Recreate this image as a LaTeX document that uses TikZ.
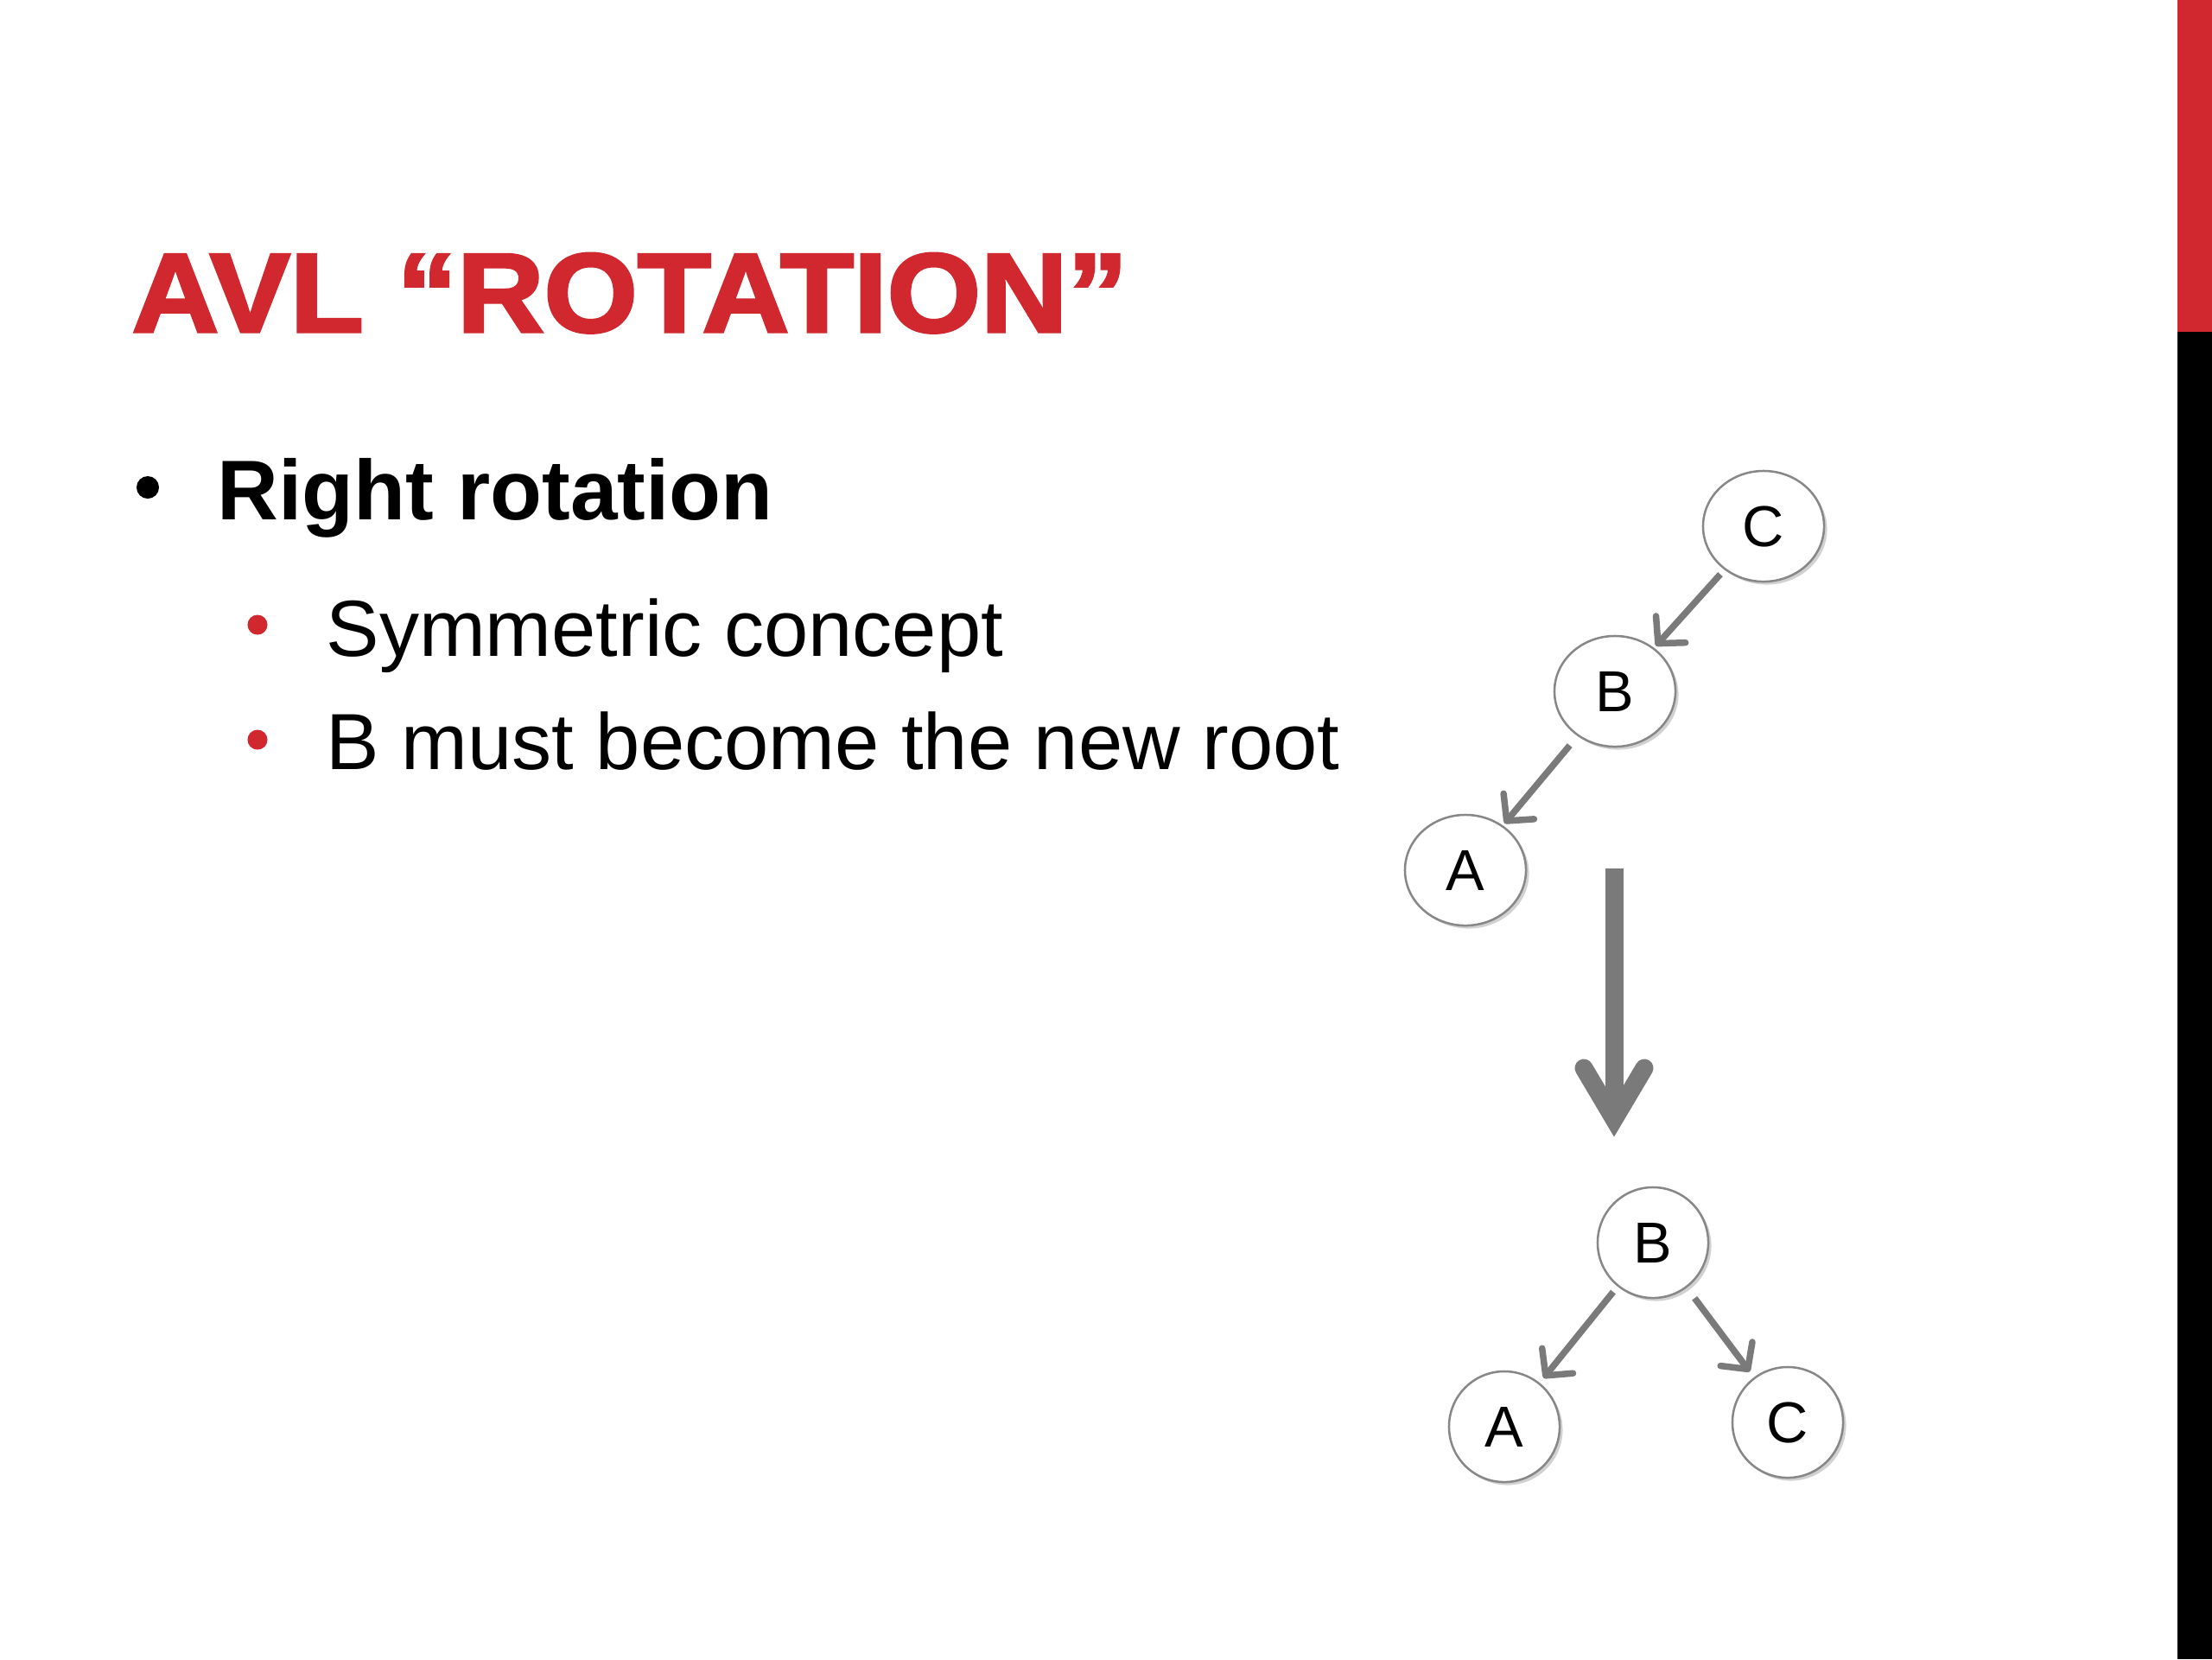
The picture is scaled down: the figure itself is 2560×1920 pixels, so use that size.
\documentclass[tikz,border=0pt]{standalone}
\usepackage{fontspec}
\setmainfont{Liberation Sans}
\newfontfamily\titlefont[BoldFeatures={FakeBold=2.5}]{Liberation Sans}
\usetikzlibrary{arrows.meta,shadows,shapes.geometric}
\definecolor{slidered}{RGB}{208,40,46}
\definecolor{arrowgray}{RGB}{122,122,122}
\definecolor{nodegray}{RGB}{135,135,135}
\begin{document}
\begin{tikzpicture}[x=0.01cm,y=-0.01cm,
  txt/.style={anchor=base west, inner sep=0pt, text=black},
  bulletdot/.style={circle, inner sep=0pt, minimum size=0.26cm},
  nodeshadow/.style={drop shadow={shadow xshift=0.035cm, shadow yshift=-0.035cm, opacity=0.18, fill=black}},
  ovalnode/.style={ellipse, draw=nodegray, line width=0.025cm, fill=white, inner sep=0pt,
    minimum width=1.40cm, minimum height=1.28cm, nodeshadow,
    font=\fontsize{19pt}{22pt}\selectfont},
  roundnode/.style={circle, draw=nodegray, line width=0.025cm, fill=white, inner sep=0pt,
    minimum size=1.28cm, nodeshadow, font=\fontsize{19pt}{22pt}\selectfont},
  treeedge/.style={draw=arrowgray, line width=0.075cm,
    -{Straight Barb[length=0.22cm,width=0.46cm,round]},
    shorten <=0.07cm, shorten >=0.03cm},
  bigarrow/.style={draw=arrowgray, line width=0.21cm}
]
\useasboundingbox (0,0) rectangle (2560,1920);
\fill[white] (0,0) rectangle (2560,1920);
% side bar
\fill[slidered] (2520,0) rectangle (2560,384);
\fill[black] (2520,384) rectangle (2560,1920);
% title
\node[txt, text=slidered, font=\fontsize{37pt}{44pt}\titlefont\bfseries\selectfont] (title) at (152,384) {\scalebox{1.07}[1]{AVL “ROTATION”}};
% bullets
\node[bulletdot, fill=black] (b1) at (171,564) {};
\node[txt, font=\fontsize{27.9pt}{33pt}\bfseries\selectfont] (l1) at (251,601) {Right rotation};
\node[bulletdot, fill=slidered, minimum size=0.23cm] (b2) at (298,723) {};
\node[txt, font=\fontsize{26.2pt}{31pt}\selectfont] (l2) at (377,759) {Symmetric concept};
\node[bulletdot, fill=slidered, minimum size=0.23cm] (b3) at (298,856) {};
\node[txt, font=\fontsize{26.2pt}{31pt}\selectfont] (l3) at (377,890) {B must become the new root};
% tree before
\node[ovalnode] (C1) at (2041,609) {C};
\node[ovalnode] (B1) at (1869,800) {B};
\node[ovalnode] (A1) at (1696,1007) {A};
\draw[treeedge] (C1) -- (B1);
\draw[treeedge, shorten <=0.14cm] (B1) -- (A1);
% big arrow
\coordinate (arrtop) at (1868,1005);
\coordinate (arrend) at (1868,1290);
\coordinate (arrtip) at (1868,1295);
\draw[bigarrow] (arrtop) -- (arrend);
\draw[bigarrow, line cap=round, line join=miter] (1833,1236) -- (arrtip) -- (1903,1236);
% tree after
\node[roundnode] (B2) at (1913,1438) {B};
\node[roundnode] (A2) at (1741,1651) {A};
\node[roundnode] (C2) at (2069,1646) {C};
\draw[treeedge, shorten <=0.08cm, shorten >=0.07cm] (B2) -- (A2);
\draw[treeedge, shorten <=0.15cm, shorten >=0.08cm] (B2) -- (C2);
\end{tikzpicture}
\end{document}
